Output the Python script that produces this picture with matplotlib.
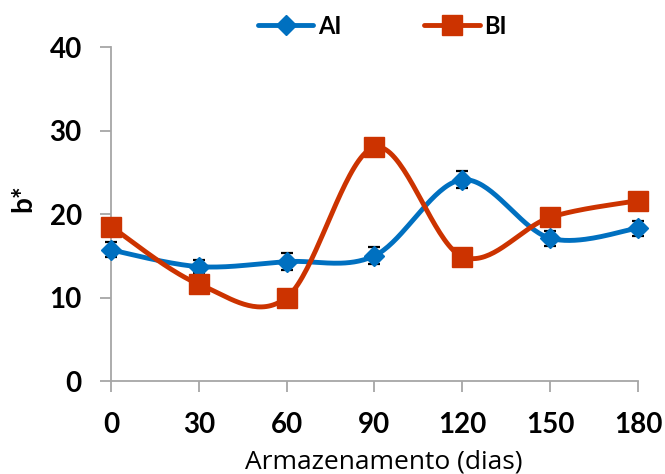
import numpy as np
import matplotlib
matplotlib.use("Agg")
import matplotlib.pyplot as plt

days = [0, 30, 60, 90, 120, 150, 180]
ai = [15.7, 13.7, 14.3, 15.0, 24.1, 17.1, 18.3]
ai_err = [0.9, 0.8, 1.0, 1.0, 1.0, 0.9, 0.9]
bi = [18.5, 11.6, 10.0, 28.0, 14.9, 19.6, 21.6]
bi_err = [0.5, 0.5, 0.5, 0.5, 0.5, 0.5, 0.5]
yticks = [0, 10, 20, 30, 40]

BLUE = "#0070C0"
RED = "#CC3300"
FONT = "Lato"


def smooth(x, y, n=40):
    x = np.asarray(x, float)
    y = np.asarray(y, float)
    P = np.column_stack([x, y])
    out = []
    for i in range(len(P) - 1):
        p0 = P[i - 1] if i > 0 else P[i]
        p1 = P[i]
        p2 = P[i + 1]
        p3 = P[i + 2] if i + 2 < len(P) else P[i + 1]
        c1 = p1 + (p2 - p0) / 6.0
        c2 = p2 - (p3 - p1) / 6.0
        t = np.linspace(0, 1, n)[:, None]
        seg = ((1 - t) ** 3) * p1 + 3 * ((1 - t) ** 2) * t * c1 + 3 * (1 - t) * t ** 2 * c2 + t ** 3 * p2
        out.append(seg if i == 0 else seg[1:])
    s = np.vstack(out)
    return s[:, 0], s[:, 1]


fig = plt.figure(figsize=(6.65, 4.74), dpi=100)
ax = fig.add_axes([0.1669, 0.1962, 0.7925, 0.7046])

handles = []
for vals, err, col, mk, ms, lab in [
    (ai, ai_err, BLUE, "D", 10, "AI"),
    (bi, bi_err, RED, "s", 15, "BI"),
]:
    ax.errorbar(days, vals, yerr=err, fmt="none", ecolor="black", elinewidth=1.2, capsize=4, capthick=1.6, zorder=2)
    sx, sy = smooth(days, vals)
    ax.plot(sx, sy, color=col, lw=3.5, zorder=3, solid_capstyle="round")
    ax.plot(days, vals, linestyle="none", marker=mk, ms=ms, color=col, zorder=4)
    h, = ax.plot([], [], color=col, lw=3.5, marker=mk, ms=ms, label=lab, solid_capstyle="round")
    handles.append(h)

ax.set_xlim(0, 180)
ax.set_ylim(0, 40)
ax.set_xticks(days)
ax.set_yticks(yticks)
for s in ["top", "right"]:
    ax.spines[s].set_visible(False)
for s in ["left", "bottom"]:
    ax.spines[s].set_color("#A6A6A6")
    ax.spines[s].set_linewidth(1.3)
ax.tick_params(axis="both", direction="out", length=8, width=1.3, color="#A6A6A6", labelsize=20)
ax.tick_params(axis="x", pad=14)
ax.tick_params(axis="y", pad=13)
for lbl in ax.get_xticklabels() + ax.get_yticklabels():
    lbl.set_fontfamily(FONT)
    lbl.set_fontweight("bold")

ax.set_xlabel("Armazenamento (dias)", fontsize=19, fontfamily="Open Sans")
ax.xaxis.set_label_coords(0.518, -0.205)
ax.set_ylabel("b*", fontsize=20, fontfamily=FONT, fontweight="bold")
ax.yaxis.set_label_coords(-0.142, 0.548)
for ln in ax.lines:
    ln.set_clip_on(False)

fig.legend(handles=handles, loc="center left", bbox_to_anchor=(258 / 665, 1 - 26 / 474), ncol=2, frameon=False,
           prop={"family": FONT, "weight": "bold", "size": 17}, handlelength=2.35,
           columnspacing=3.5, handletextpad=0.2, numpoints=1, borderpad=0, borderaxespad=0)

fig.savefig("out.png", dpi=100)
